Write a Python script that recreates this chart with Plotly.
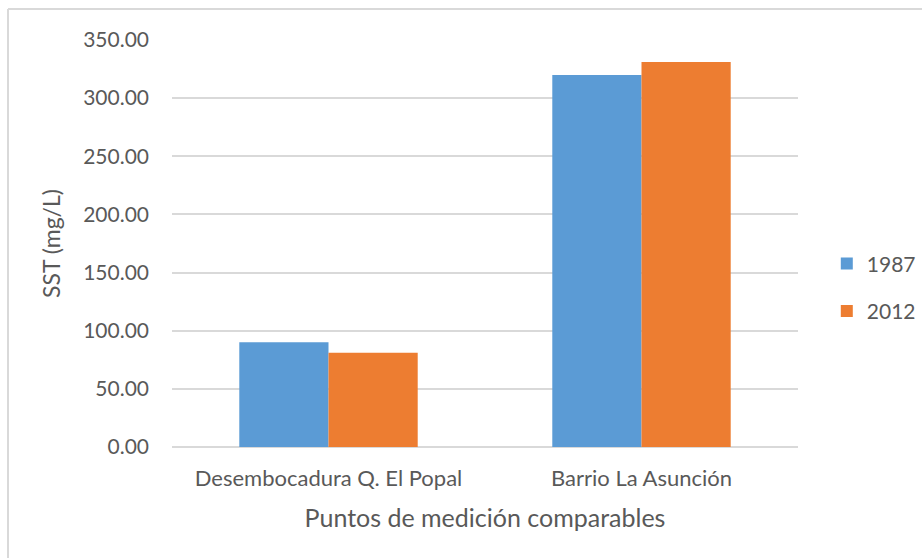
import plotly.graph_objects as go

# Sampling points and suspended solids (SST, mg/L) per survey year
puntos = ["Desembocadura Q. El Popal", "Barrio La Asunción"]
sst_1987 = [90.0, 320.0]
sst_2012 = [81.0, 331.0]
y_ticks = [0, 50, 100, 150, 200, 250, 300, 350]

FONT = "Lato, Carlito, Calibri, sans-serif"
TEXT = "#595959"
GRID = "#d9d9d9"

fig = go.Figure()
fig.add_trace(go.Bar(name="1987", x=puntos, y=sst_1987, legendgroup="a",
                     marker=dict(color="#5b9bd5", line=dict(width=0))))
fig.add_trace(go.Bar(name="2012", x=puntos, y=sst_2012, legendgroup="b",
                     marker=dict(color="#ed7d31", line=dict(width=0))))

fig.update_layout(
    width=922, height=558,
    margin=dict(l=172, r=124, t=40, b=111, autoexpand=False),
    paper_bgcolor="white", plot_bgcolor="white",
    barmode="group", bargap=0.43, bargroupgap=0,
    font=dict(family=FONT, color=TEXT, size=21),
    xaxis=dict(
        title=dict(text="Puntos de medición comparables",
                   font=dict(size=25, color=TEXT), standoff=19),
        tickfont=dict(size=22, color=TEXT),
        showline=False, ticks="", showgrid=False,
        ticklabelstandoff=16,
    ),
    yaxis=dict(
        title=dict(text="SST (mg/L)", font=dict(size=23, color=TEXT),
                   standoff=16),
        range=[0, 350], tickvals=y_ticks, tickformat=".2f",
        tickfont=dict(size=21, color=TEXT),
        showgrid=True, gridcolor=GRID, gridwidth=1.5,
        zeroline=True, zerolinecolor=GRID, zerolinewidth=1.5,
        ticks="", ticklabelstandoff=22,
    ),
    legend=dict(
        x=1.046, y=0.392, xanchor="left", yanchor="middle",
        font=dict(size=21, color=TEXT),
        tracegroupgap=17, itemwidth=30,
    ),
    shapes=[
        # frame of the chart area (left and top edges)
        dict(type="line", xref="paper", yref="paper",
             x0=-0.262, x1=-0.262, y0=-0.3, y1=1.0762,
             line=dict(color=GRID, width=2)),
        dict(type="line", xref="paper", yref="paper",
             x0=-0.262, x1=1.3, y0=1.0762, y1=1.0762,
             line=dict(color=GRID, width=2)),
    ],
)

fig.write_html("out.html")
